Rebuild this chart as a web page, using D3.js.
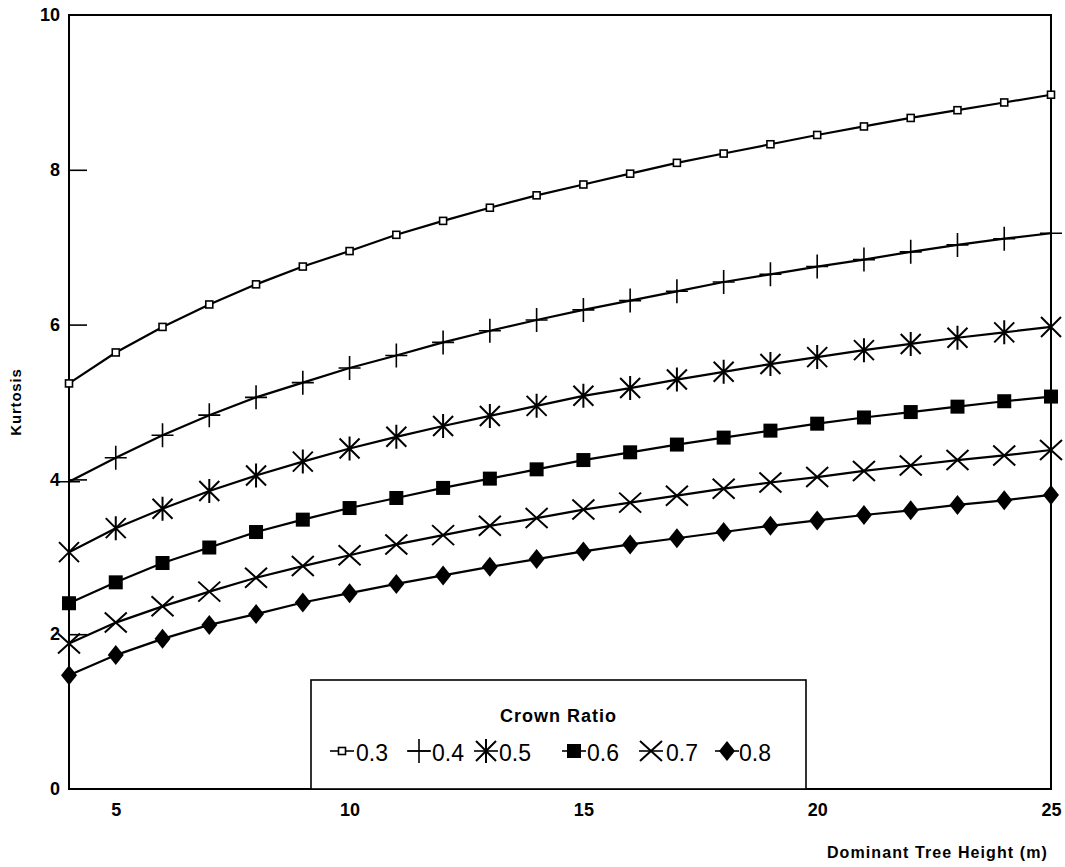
<!DOCTYPE html>
<html>
<head>
<meta charset="utf-8">
<script src="https://cdn.jsdelivr.net/npm/d3@7"></script>
<style>
  html, body { margin: 0; padding: 0; background: #fff; }
  svg { display: block; }
  text { font-family: "Liberation Sans", Arial, Helvetica, sans-serif; fill: #000; }
</style>
</head>
<body>
<svg id="chart" width="1065" height="867"></svg>
<script>
// Dominant tree height (m)
const heights = [4, 5, 6, 7, 8, 9, 10, 11, 12, 13, 14, 15, 16, 17, 18, 19, 20, 21, 22, 23, 24, 25];

// Kurtosis by crown ratio
const kurt03 = [5.24, 5.64, 5.97, 6.26, 6.52, 6.75, 6.95, 7.16, 7.34, 7.51, 7.67, 7.81, 7.95, 8.09, 8.21, 8.33, 8.45, 8.56, 8.67, 8.77, 8.87, 8.97];
const kurt04 = [3.97, 4.28, 4.57, 4.83, 5.06, 5.25, 5.44, 5.60, 5.77, 5.92, 6.06, 6.19, 6.31, 6.43, 6.55, 6.65, 6.75, 6.84, 6.94, 7.03, 7.11, 7.18];
const kurt05 = [3.06, 3.37, 3.62, 3.85, 4.05, 4.23, 4.40, 4.55, 4.69, 4.82, 4.95, 5.08, 5.18, 5.29, 5.39, 5.49, 5.58, 5.67, 5.75, 5.83, 5.90, 5.97];
const kurt06 = [2.40, 2.67, 2.92, 3.12, 3.32, 3.48, 3.63, 3.76, 3.89, 4.01, 4.13, 4.25, 4.35, 4.45, 4.54, 4.63, 4.72, 4.80, 4.87, 4.94, 5.01, 5.07];
const kurt07 = [1.88, 2.15, 2.36, 2.55, 2.73, 2.88, 3.02, 3.16, 3.28, 3.40, 3.50, 3.61, 3.70, 3.79, 3.88, 3.96, 4.03, 4.11, 4.18, 4.25, 4.31, 4.38];
const kurt08 = [1.47, 1.73, 1.94, 2.12, 2.26, 2.41, 2.53, 2.65, 2.76, 2.87, 2.97, 3.07, 3.16, 3.24, 3.32, 3.40, 3.47, 3.54, 3.60, 3.67, 3.73, 3.80];

const crownRatios = ["0.3", "0.4", "0.5", "0.6", "0.7", "0.8"];
const xTicks = [5, 10, 15, 20, 25];
const yTicks = [0, 2, 4, 6, 8, 10];

const seriesValues = [kurt03, kurt04, kurt05, kurt06, kurt07, kurt08];
const markerKinds = ["openSquare", "plus", "asterisk", "filledSquare", "cross", "diamond"];

const svg = d3.select("#chart");
const plot = { left: 69, right: 1051, top: 15, bottom: 789 };

const x = d3.scaleLinear().domain([4, 25]).range([plot.left, plot.right]);
const y = d3.scaleLinear().domain([0, 10]).range([plot.bottom, plot.top]);

// Marker drawing for each crown ratio symbol
function drawMarker(g, kind) {
  switch (kind) {
    case "openSquare":
      g.append("rect").attr("x", -3.5).attr("y", -3.5).attr("width", 7).attr("height", 7)
        .attr("fill", "#fff").attr("stroke", "#000").attr("stroke-width", 1.6);
      break;
    case "plus":
      g.append("path").attr("d", "M-11,0H11M0,-12V12")
        .attr("stroke", "#000").attr("stroke-width", 1.6).attr("fill", "none");
      break;
    case "asterisk":
      g.append("path").attr("d", "M-10,-10L10,10M-10,10L10,-10M0,-12V12")
        .attr("stroke", "#000").attr("stroke-width", 2).attr("fill", "none");
      break;
    case "filledSquare":
      g.append("rect").attr("x", -7).attr("y", -7).attr("width", 14).attr("height", 14)
        .attr("fill", "#000");
      break;
    case "cross":
      g.append("path").attr("d", "M-11,-10L11,10M-11,10L11,-10")
        .attr("stroke", "#000").attr("stroke-width", 2).attr("fill", "none");
      break;
    case "diamond":
      g.append("path").attr("d", "M0,-10L8,0L0,10L-8,0Z").attr("fill", "#000");
      break;
  }
}

// Frame
svg.append("rect")
  .attr("x", plot.left).attr("y", plot.top)
  .attr("width", plot.right - plot.left).attr("height", plot.bottom - plot.top)
  .attr("fill", "none").attr("stroke", "#000").attr("stroke-width", 2);

// Y axis: inward ticks, bold labels
const yAxis = d3.axisLeft(y).tickValues(yTicks).tickSizeInner(-18).tickSizeOuter(0).tickPadding(9);
const yAxisG = svg.append("g").attr("transform", `translate(${plot.left},0)`).call(yAxis);
yAxisG.select(".domain").remove();
yAxisG.selectAll(".tick line")
  .attr("stroke", "#000").attr("stroke-width", 1.6)
  .filter(d => d === 0 || d === 10).remove();
yAxisG.selectAll(".tick text")
  .attr("font-size", 18).attr("font-weight", "bold")
  .attr("font-family", "'Liberation Sans', Arial, sans-serif").attr("fill", "#000");

// X axis: labels only
const xAxis = d3.axisBottom(x).tickValues(xTicks).tickSize(0).tickPadding(14);
const xAxisG = svg.append("g").attr("transform", `translate(0,${plot.bottom})`).call(xAxis);
xAxisG.select(".domain").remove();
xAxisG.selectAll(".tick text")
  .attr("font-size", 18).attr("font-weight", "bold")
  .attr("font-family", "'Liberation Sans', Arial, sans-serif").attr("fill", "#000");

// Axis titles
svg.append("text")
  .attr("transform", "translate(21,402) rotate(-90)")
  .attr("text-anchor", "middle")
  .attr("font-size", 15).attr("font-weight", "bold").attr("letter-spacing", 0.8)
  .text("Kurtosis");

svg.append("text")
  .attr("x", 1048).attr("y", 858)
  .attr("text-anchor", "end")
  .attr("font-size", 16).attr("font-weight", "bold").attr("letter-spacing", 1.1)
  .text("Dominant Tree Height (m)");

// Series lines and markers
const line = d3.line().x(d => x(d[0])).y(d => y(d[1]));
seriesValues.forEach((vals, i) => {
  const pts = heights.map((h, j) => [h, vals[j]]);
  svg.append("path")
    .datum(pts)
    .attr("d", line)
    .attr("fill", "none").attr("stroke", "#000").attr("stroke-width", 2.2);
  const mg = svg.append("g");
  pts.forEach(p => {
    const g = mg.append("g").attr("transform", `translate(${x(p[0])},${y(p[1])})`);
    drawMarker(g, markerKinds[i]);
  });
});

// Legend
const legend = { x: 311, y: 680, w: 495, h: 109 };
svg.append("rect")
  .attr("x", legend.x).attr("y", legend.y).attr("width", legend.w).attr("height", legend.h)
  .attr("fill", "#fff").attr("stroke", "#000").attr("stroke-width", 1.6);

svg.append("text")
  .attr("x", legend.x + legend.w / 2).attr("y", 722)
  .attr("text-anchor", "middle")
  .attr("font-size", 18).attr("font-weight", "bold").attr("letter-spacing", 1)
  .text("Crown Ratio");

const legendSymbolX = [342, 419, 486, 574, 651, 727];
const legendTextX = [356, 432, 499, 587, 666, 739];
crownRatios.forEach((label, i) => {
  const cx = legendSymbolX[i];
  svg.append("line")
    .attr("x1", cx - 12).attr("x2", cx + 12).attr("y1", 751).attr("y2", 751)
    .attr("stroke", "#000").attr("stroke-width", 1.6);
  const g = svg.append("g").attr("transform", `translate(${cx},751)`);
  drawMarker(g, markerKinds[i]);
  svg.append("text")
    .attr("x", legendTextX[i]).attr("y", 761)
    .attr("font-size", 23)
    .text(label);
});
</script>
</body>
</html>
